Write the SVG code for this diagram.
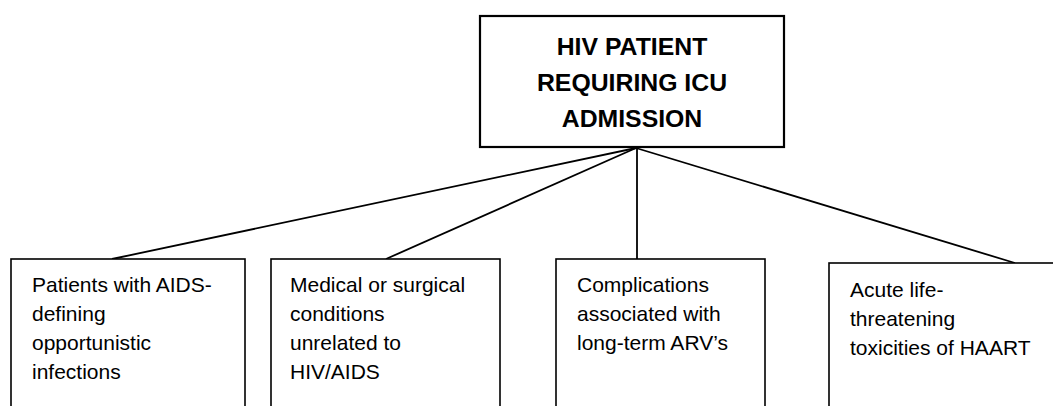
<svg xmlns="http://www.w3.org/2000/svg" width="1053" height="406" viewBox="0 0 1053 406">
<style>
.box{fill:#fff;stroke:#000;stroke-width:1.6}
.top{fill:#fff;stroke:#000;stroke-width:2.2}
.t{font-family:"Liberation Sans",Arial,sans-serif;font-size:21px;fill:#000}
.tb{font-family:"Liberation Sans",Arial,sans-serif;font-size:24.8px;font-weight:bold;fill:#000;text-anchor:middle}
.c{stroke:#000;stroke-width:1.8;fill:none}
</style>
<rect width="1053" height="406" fill="#fff"/>
<g id="connectors">
<line class="c" x1="636" y1="148" x2="112" y2="259"/>
<line class="c" x1="636" y1="148" x2="386" y2="259"/>
<line class="c" x1="637" y1="148" x2="637" y2="259"/>
<line class="c" x1="636" y1="148" x2="1015" y2="263"/>
</g>
<g id="root">
<rect class="top" x="480" y="16" width="304" height="131"/>
<text class="tb" x="632" y="55">HIV PATIENT</text>
<text class="tb" x="632" y="91">REQUIRING ICU</text>
<text class="tb" x="632" y="127">ADMISSION</text>
</g>
<g id="n1">
<rect class="box" x="11" y="259" width="234" height="170"/>
<text class="t" x="32" y="292">Patients with AIDS-</text>
<text class="t" x="32" y="321">defining</text>
<text class="t" x="32" y="350">opportunistic</text>
<text class="t" x="32" y="379">infections</text>
</g>
<g id="n2">
<rect class="box" x="271" y="259" width="229" height="170"/>
<text class="t" x="290" y="292">Medical or surgical</text>
<text class="t" x="290" y="321">conditions</text>
<text class="t" x="290" y="350">unrelated to</text>
<text class="t" x="290" y="379">HIV/AIDS</text>
</g>
<g id="n3">
<rect class="box" x="556" y="259" width="209" height="170"/>
<text class="t" x="577" y="292">Complications</text>
<text class="t" x="577" y="321">associated with</text>
<text class="t" x="577" y="350">long-term ARV’s</text>
</g>
<g id="n4">
<rect class="box" x="829" y="263" width="260" height="170"/>
<text class="t" x="850" y="297">Acute life-</text>
<text class="t" x="850" y="326">threatening</text>
<text class="t" x="850" y="355">toxicities of HAART</text>
</g>
</svg>
